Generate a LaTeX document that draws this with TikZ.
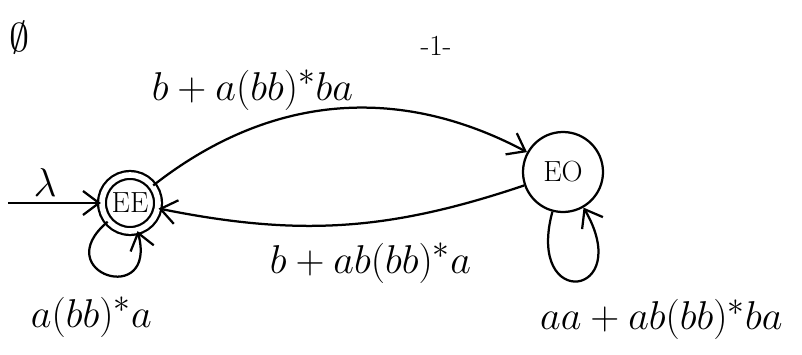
\documentclass[tikz,border=0pt]{standalone}
\usetikzlibrary{arrows.meta}

\tikzset{
  statenode/.style={circle, draw, inner sep=0pt, font=\huge},
  accept/.style={double, double distance=4pt},
  lbl/.style={font=\Huge, scale=1.15, transform shape}
}

\begin{document}
\begin{tikzpicture}[line width=1.6pt, >={Straight Barb[length=4mm, width=6mm]}]
        \useasboundingbox (0,0) rectangle (20.05,8.85);
        \node (phi) at (0.5,7.9) [lbl] {$\emptyset$};
        \node (page) at (10.9,7.7) [font=\huge] {-1-};

        \node (EE) at (3.25,3.775) [statenode, accept, minimum size=1.4cm] {EE};
        \node (EO) [statenode, minimum size=2cm, node distance=10.825cm, right of=EE, yshift=0.775cm] {EO};
        \coordinate [node distance=3.05cm, left of=EE] (start);

        \draw[->] (start) -- node[above, pos=0.4, lbl] {$\lambda$} (EE);
        \draw[->] (EE) to[bend left=33] node[above, pos=0.3, xshift=-0.2cm, yshift=0.2cm, lbl] {$b+a(bb)^*ba$} (EO);
        \draw[->] (EO) to[bend left=15] node[below, pos=0.42, yshift=-0.35cm, lbl] {$b+ab(bb)^*a$} (EE);
        \draw[->] (EE) to[out=220, in=285, min distance=2cm] node[below, xshift=-0.4cm, yshift=-0.4cm, lbl] {$a(bb)^*a$} (EE);
        \draw[->] (EO) to[out=255, in=300, min distance=2.6cm] node[below, xshift=2.1cm, yshift=-0.3cm, lbl] {$aa+ab(bb)^*ba$} (EO);
    \end{tikzpicture}
\end{document}
